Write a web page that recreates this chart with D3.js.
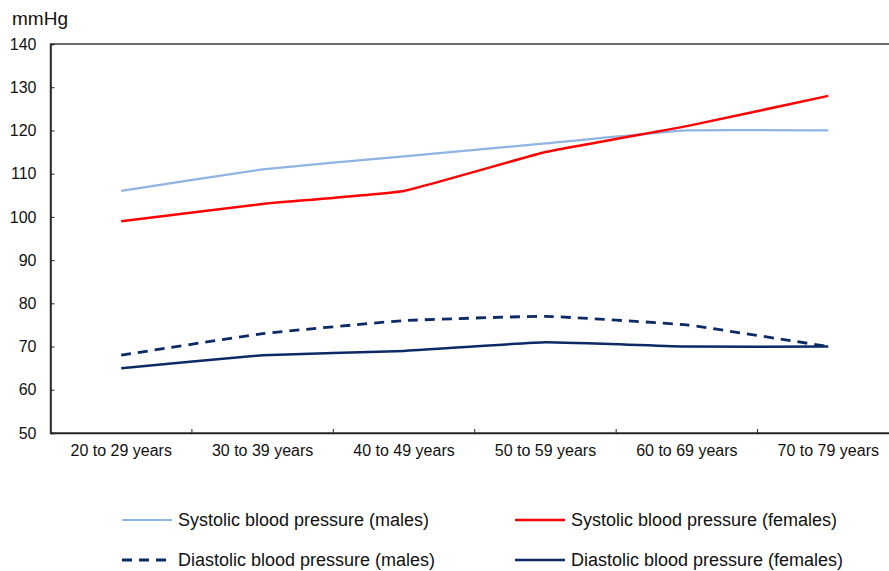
<!DOCTYPE html>
<html>
  <head>
    <meta charset="utf-8">
    <script src="https://unpkg.com/d3@7/dist/d3.min.js"></script>
    <style>
      body {
        margin: 0;
        background: #ffffff;
      }

      text {
        font-family: "Liberation Sans", Arial, sans-serif;
        fill: #111111;
      }

      .line {
        fill: none;
      }
    </style>
  </head>
  <body>
    <script>
      const categories = ['20 to 29 years', '30 to 39 years', '40 to 49 years',
        '50 to 59 years', '60 to 69 years', '70 to 79 years'];
      const yTicks = [50, 60, 70, 80, 90, 100, 110, 120, 130, 140];

      const systolicMales = [106, 111, 114, 117, 120, 120];
      const systolicFemales = [99, 103, 106, 115, 121, 128];
      const diastolicMales = [68, 73, 76, 77, 75, 70];
      const diastolicFemales = [65, 68, 69, 71, 70, 70];

      const series = [
        {name: 'Systolic blood pressure (males)', values: systolicMales,
          color: '#8eb4e3', width: 2.2, dash: null},
        {name: 'Systolic blood pressure (females)', values: systolicFemales,
          color: '#ff0000', width: 2.5, dash: null},
        {name: 'Diastolic blood pressure (males)', values: diastolicMales,
          color: '#0b2a66', width: 2.8, dash: '10 7'},
        {name: 'Diastolic blood pressure (females)', values: diastolicFemales,
          color: '#0b2a66', width: 2.5, dash: null}
      ];

      const width = 889;
      const height = 571;
      const plotLeft = 50.5;
      const plotRight = 899;
      const plotTop = 44;
      const plotBottom = 433;

      const svg = d3.select('body')
        .append('svg')
        .attr('width', width)
        .attr('height', height);

      const x = d3.scaleBand()
        .domain(categories)
        .range([plotLeft, plotRight]);

      const y = d3.scaleLinear()
        .domain([50, 140])
        .range([plotBottom, plotTop]);

      // frame
      svg.append('rect')
        .attr('x', plotLeft)
        .attr('y', plotTop)
        .attr('width', plotRight - plotLeft)
        .attr('height', plotBottom - plotTop)
        .attr('fill', 'none')
        .attr('stroke', '#404040')
        .attr('stroke-width', 1.5);

      // y axis
      const yAxis = svg.append('g')
        .attr('transform', `translate(${plotLeft},0)`)
        .call(d3.axisLeft(y).tickValues(yTicks).tickSize(-4).tickPadding(14));
      yAxis.select('.domain').attr('stroke', '#222').attr('stroke-width', 1.5);
      yAxis.selectAll('.tick line').attr('stroke', '#222');
      yAxis.selectAll('text')
        .style('font-size', '16px')
        .attr('fill', '#111');

      // x axis
      const xAxis = svg.append('g')
        .attr('transform', `translate(0,${plotBottom})`)
        .call(d3.axisBottom(x).tickSize(0).tickPadding(12));
      xAxis.select('.domain').attr('stroke', '#222').attr('stroke-width', 1.5);
      xAxis.selectAll('text')
        .style('font-size', '16px')
        .attr('fill', '#111');

      xAxis.selectAll('.boundary')
        .data(categories.slice(1))
        .enter()
        .append('line')
        .attr('x1', d => x(d))
        .attr('x2', d => x(d))
        .attr('y1', 0)
        .attr('y2', -4)
        .attr('stroke', '#222');

      // unit label
      svg.append('text')
        .attr('x', 12)
        .attr('y', 25)
        .style('font-size', '19px')
        .text('mmHg');

      // lines
      const line = d3.line()
        .x((d, i) => x(categories[i]) + x.bandwidth() / 2)
        .y(d => y(d))
        .curve(d3.curveCardinal.tension(0.7));

      svg.selectAll('.line')
        .data(series)
        .enter()
        .append('path')
        .classed('line', true)
        .attr('d', d => line(d.values))
        .attr('stroke', d => d.color)
        .attr('stroke-width', d => d.width)
        .attr('stroke-dasharray', d => d.dash);

      // legend
      const legendPos = [[122, 520], [515, 520], [122, 560], [515, 560]];
      const legend = svg.selectAll('.legend')
        .data(series)
        .enter()
        .append('g')
        .attr('transform', (d, i) => `translate(${legendPos[i][0]},${legendPos[i][1]})`);

      legend.append('line')
        .attr('x1', 0)
        .attr('x2', 50)
        .attr('stroke', d => d.color)
        .attr('stroke-width', d => d.width)
        .attr('stroke-dasharray', d => d.dash);

      legend.append('text')
        .attr('x', 56)
        .attr('dy', '0.35em')
        .style('font-size', '18px')
        .text(d => d.name);
    </script>
  </body>
</html>
